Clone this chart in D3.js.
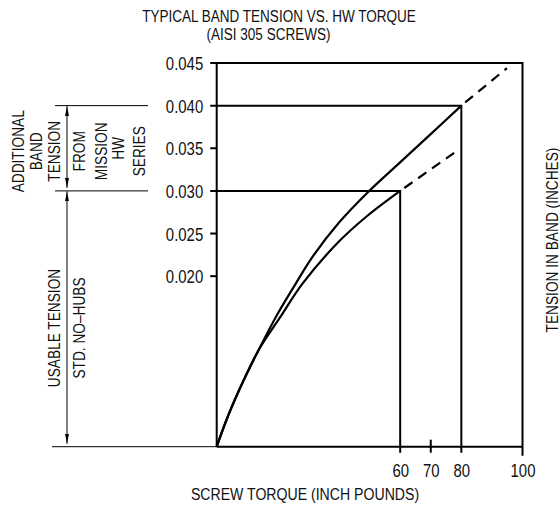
<!DOCTYPE html>
<html>
<head>
<meta charset="utf-8">
<script src="https://cdn.jsdelivr.net/npm/d3@7"></script>
<style>
  body { margin: 0; background: #fff; }
  svg text { font-family: "Liberation Sans", Arial, sans-serif; fill: #111; }
</style>
</head>
<body>
<svg class="mainSvg"></svg>
<script>
// ===========================================================================
//     data area
// ===========================================================================
const titleLines = ['TYPICAL BAND TENSION VS. HW TORQUE', '(AISI 305 SCREWS)'];
const xTickValues = [60, 70, 80, 100];
const yTickValues = [0.020, 0.025, 0.030, 0.035, 0.040, 0.045];

// torque (inch pounds), tension (inches)
const stdCurve = [
  [0, 0], [3.7, 0.0036], [8.7, 0.0077], [13.8, 0.0114], [20.6, 0.0151],
  [28, 0.0191], [39.8, 0.0240], [49, 0.0270], [60, 0.030],
];
const hwCurve = [
  [0, 0], [3.7, 0.0036], [8.7, 0.0077], [13.8, 0.0114], [19.8, 0.0155],
  [25.8, 0.0191], [31.6, 0.0224], [39.8, 0.0262], [49.6, 0.0299],
  [58.9, 0.0330], [69.8, 0.0366], [80, 0.040],
];
const stdExtension = [[60, 0.030], [79, 0.0348]];
const hwExtension = [[80, 0.040], [94.9, 0.0444]];
const ratedPoints = [[60, 0.030], [80, 0.040]];

const additionalLabel = ['ADDITIONAL', 'BAND', 'TENSION'];
const fromLabel = ['FROM', 'MISSION', 'HW', 'SERIES'];
const usableLabel = ['USABLE TENSION', 'STD. NO\u2013HUBS'];

const initWidth = 560;
const initHeight = 510;
const narrow = 0.83;   // condensed type

// ===========================================================================
//      procedure
// ===========================================================================
const svg = d3.select('.mainSvg')
  .attr('width', initWidth)
  .attr('height', initHeight);

const x = d3.scaleLinear().domain([0, 100]).range([216.7, 522.5]);
const y = d3.scaleLinear().domain([0, 0.045]).range([446.7, 63]);

function narrowText(str, tx, ty, size, angle) {
  return svg.append('text').text(str)
    .attr('transform', `translate(${tx},${ty}) rotate(${angle || 0}) scale(${narrow},1)`)
    .attr('text-anchor', 'middle')
    .style('font-size', size + 'px');
}

// title
narrowText(titleLines[0], 279, 22, 16.3);
narrowText(titleLines[1], 268.5, 39.5, 16.3);

// frame
svg.append('path')
  .attr('d', `M${x(0)} ${y(0)} L${x(0)} ${y(0.045)} L${x(100)} ${y(0.045)} L${x(100)} ${y(0) + 9} M${x(0)} ${y(0)} L${x(100)} ${y(0)}`)
  .attr('fill', 'none').attr('stroke', '#000').attr('stroke-width', 2);

// y axis ticks + labels
const yAxis = d3.axisLeft(y).tickValues(yTickValues).tickSize(0).tickPadding(13.5 / narrow)
  .tickFormat(d3.format('.3f'));
const gy = svg.append('g').attr('transform', `translate(${x(0)},0)`).call(yAxis);
gy.select('.domain').remove();
gy.selectAll('text').style('font-size', '18px').attr('fill', '#111').attr('dy', '0.36em')
  .attr('transform', `scale(${narrow},1)`);

svg.append('g').selectAll('line')
  .data(yTickValues.filter(v => !ratedPoints.some(p => p[1] === v)))
  .enter().append('line')
  .attr('x1', x(0) - 6.5).attr('x2', x(0))
  .attr('y1', d => y(d)).attr('y2', d => y(d))
  .attr('stroke', '#000').attr('stroke-width', 2);

// x axis labels
const xAxis = d3.axisBottom(x).tickValues(xTickValues).tickSize(0).tickPadding(18);
const gx = svg.append('g').attr('transform', `translate(0,${y(0)})`).call(xAxis);
gx.select('.domain').remove();
gx.selectAll('text').style('font-size', '18px').attr('fill', '#111')
  .attr('transform', `scale(${narrow},1)`);

// 70 tick crosses the axis
svg.append('line')
  .attr('x1', x(70)).attr('x2', x(70)).attr('y1', y(0) - 7).attr('y2', y(0) + 6)
  .attr('stroke', '#000').attr('stroke-width', 2);

// rated torque guide lines
svg.append('g').selectAll('path')
  .data(ratedPoints)
  .enter().append('path')
  .attr('d', d => `M${x(0) - 6.5} ${y(d[1])} L${x(d[0])} ${y(d[1])} L${x(d[0])} ${y(0) + 6}`)
  .attr('fill', 'none').attr('stroke', '#000').attr('stroke-width', 2);

// curves
const line = d3.line().x(d => x(d[0])).y(d => y(d[1])).curve(d3.curveCatmullRom.alpha(0.5));
[stdCurve, hwCurve].forEach(function (c) {
  svg.append('path').attr('d', line(c))
    .attr('fill', 'none').attr('stroke', '#000').attr('stroke-width', 2.2);
});
[stdExtension, hwExtension].forEach(function (c) {
  svg.append('path').attr('d', line(c))
    .attr('fill', 'none').attr('stroke', '#000').attr('stroke-width', 2.2)
    .attr('stroke-dasharray', '10,7').attr('stroke-dashoffset', 12);
});

// axis titles
narrowText('SCREW TORQUE (INCH POUNDS)', 305, 500, 17);
narrowText('TENSION IN BAND (INCHES)', 558, 240, 16.5, -90);

// ===========================================================================
//      left annotation
// ===========================================================================
const defs = svg.append('defs');
defs.append('marker').attr('id', 'arrow')
  .attr('viewBox', '0 0 10 4').attr('refX', 10).attr('refY', 2)
  .attr('markerWidth', 10).attr('markerHeight', 4).attr('markerUnits', 'userSpaceOnUse')
  .attr('orient', 'auto-start-reverse')
  .append('path').attr('d', 'M0 0 L10 2 L0 4 Z').attr('fill', '#000');

const annoX = 67;
[0.040, 0.030].forEach(function (v) {
  svg.append('line').attr('x1', 55).attr('x2', 148).attr('y1', y(v)).attr('y2', y(v))
    .attr('stroke', '#000').attr('stroke-width', 1);
});
svg.append('line').attr('x1', 52).attr('x2', x(0)).attr('y1', y(0)).attr('y2', y(0))
  .attr('stroke', '#000').attr('stroke-width', 1);

[[0.040, 0.030], [0.030, 0]].forEach(function (r) {
  svg.append('line').attr('x1', annoX).attr('x2', annoX)
    .attr('y1', y(r[0]) + 0.5).attr('y2', y(r[1]) - 3)
    .attr('stroke', '#000').attr('stroke-width', 1)
    .attr('marker-start', 'url(#arrow)').attr('marker-end', 'url(#arrow)');
});

const midTop = (y(0.040) + y(0.030)) / 2 + 3;
const addX = [23.5, 42, 60];
additionalLabel.forEach(function (t, i) {
  narrowText(t, addX[i], midTop, 16.5, -90);
});
const fromX = [85, 107, 123.5, 145];
fromLabel.forEach(function (t, i) {
  narrowText(t, fromX[i], fromX[i] === 123.5 ? midTop - 3 : midTop, 16.5, -90);
});
const useX = [60, 85];
usableLabel.forEach(function (t, i) {
  narrowText(t, useX[i], 328, 16.5, -90);
});
</script>
</body>
</html>
